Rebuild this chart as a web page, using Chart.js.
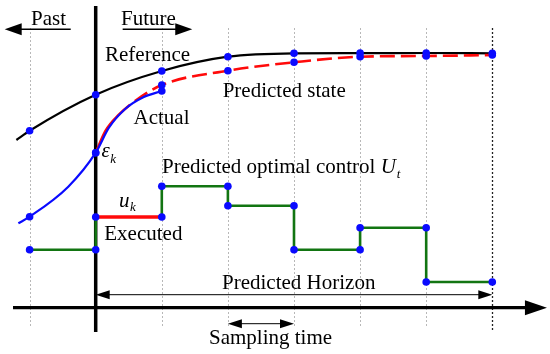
<!DOCTYPE html>
<html><head><meta charset="utf-8">
<script src="https://cdn.jsdelivr.net/npm/chart.js@4.4.1/dist/chart.umd.min.js"></script>
<style>html,body{margin:0;padding:0;background:#fff;overflow:hidden}canvas{display:block}</style>
</head><body>
<canvas id="c" width="550" height="354"></canvas>
<script>
// ---- data (time in sampling steps k, signal level in arbitrary units) ----
const steps = [-1, 0, 1, 2, 3, 4, 5, 6];
const refK  = [-1.2, -1, 0, 1, 2, 3, 4, 5, 6];
const refY  = [167.7, 177, 213, 236.7, 251, 254.4, 254.6, 254.7, 254.4];
const actK  = [-1.17, -1, -0.415, 0, 0.2, 0.45, 0.72, 1];
const actY  = [84.4, 91, 121, 155, 180, 199, 210.5, 216.7];
const predK = [0, 0.15, 0.35, 0.6, 1, 2, 3, 4, 5, 6];
const predY = [155, 177, 193, 207, 222.7, 237, 245.4, 251, 251.7, 252.7];
const ctrlK = [-1, 0, 1, 2, 3, 4, 5];
const ctrlU = [58, 90.7, 121.4, 102, 58, 80, 25.7];
const executedStep = 0;
const horizonStart = 0, horizonEnd = 6;

// ---- build library tables ----
const pts = (ks, ys) => ks.map((k, i) => ({x: k, y: ys[i]}));
const ctrlPts = [];
ctrlK.forEach((k, i) => { ctrlPts.push({x: k, y: ctrlU[i]}); ctrlPts.push({x: k + 1, y: ctrlU[i]}); });
const markerR = ctx => { const v = ctx.raw; return v && Number.isInteger(v.x) ? 3.8 : 0; };
const BLUE = '#0a0aff', GREEN = '#127512', RED = '#ff0a0a';

const serif = '"Liberation Serif","Times New Roman",serif';
const FS = 21;

const decor = {
  id: 'decor',
  beforeDatasetsDraw(chart) {
    const {ctx, scales: {x, y}} = chart;
    ctx.save();
    steps.forEach(k => {
      const last = k === steps[steps.length - 1];
      ctx.beginPath();
      ctx.setLineDash([2, 2]);
      ctx.strokeStyle = last ? '#222' : '#b8b8b8';
      ctx.lineWidth = last ? 1.3 : 1;
      const px = Math.round(x.getPixelForValue(k)) + 0.5;
      ctx.moveTo(px, y.getPixelForValue(279.7));
      ctx.lineTo(px, y.getPixelForValue(last ? -22.3 : -18.3));
      ctx.stroke();
    });
    ctx.setLineDash([]);
    arrow(ctx, x.getPixelForValue(-1.251), y.getPixelForValue(0), x.getPixelForValue(6.827), y.getPixelForValue(0), 3.2, 22, 7.5, false);
    ctx.beginPath(); ctx.strokeStyle = '#000'; ctx.lineWidth = 3.5;
    ctx.moveTo(x.getPixelForValue(0), y.getPixelForValue(301.7));
    ctx.lineTo(x.getPixelForValue(0), y.getPixelForValue(-24.3));
    ctx.stroke();
    ctx.restore();
  },
  afterDatasetsDraw(chart) {
    const {ctx, scales: {x, y}} = chart;
    const X = k => x.getPixelForValue(k), Y = v => y.getPixelForValue(v);
    ctx.save();
    arrow(ctx, X(-0.378), Y(278.4), X(-1.377), Y(278.4), 1.6, 17, 6, false);
    arrow(ctx, X(0.408), Y(278.4), X(1.461), Y(278.4), 1.6, 17, 6, false);
    arrow(ctx, X(horizonStart), Y(13), X(horizonEnd), Y(13), 1, 14, 4.5, true);
    arrow(ctx, X(2), Y(-16), X(3), Y(-16), 1, 14, 4.5, true);
    ctx.fillStyle = '#000';
    ctx.textBaseline = 'alphabetic';
    ctx.textAlign = 'left';
    const plain = [
      ['Past', -0.979, 282.7], ['Future', 0.383, 282.7], ['Reference', 0.141, 246.7],
      ['Predicted state', 1.921, 210.7], ['Actual', 0.572, 184.2], ['Executed', 0.13, 67.4],
      ['Predicted Horizon', 1.911, 19], ['Sampling time', 1.714, -36]
    ];
    ctx.font = FS + 'px ' + serif;
    plain.forEach(([t, k, v]) => ctx.fillText(t, X(k), Y(v)));
    const s1 = 'Predicted optimal control ';
    ctx.fillText(s1, X(1.003), Y(134.7));
    let px = X(1.003) + ctx.measureText(s1).width;
    ctx.font = 'italic ' + FS + 'px ' + serif;
    ctx.fillText('U', px, Y(134.7));
    px += ctx.measureText('U').width + 1;
    ctx.font = 'italic 13px ' + serif;
    ctx.fillText('t', px, Y(134.7) + 5);
    ctx.font = 'italic ' + FS + 'px ' + serif;
    ctx.fillText('\u03b5', X(0.088), Y(150.7));
    px = X(0.088) + ctx.measureText('\u03b5').width + 0.5;
    ctx.font = 'italic 13px ' + serif;
    ctx.fillText('k', px, Y(150.7) + 6);
    ctx.font = 'italic ' + FS + 'px ' + serif;
    ctx.fillText('u', X(0.352), Y(100.7));
    px = X(0.352) + ctx.measureText('u').width + 0.5;
    ctx.font = 'italic 13px ' + serif;
    ctx.fillText('k', px, Y(100.7) + 4);
    ctx.restore();
  }
};

function arrow(ctx, x0, y0, x1, y1, lw, hl, hw, both) {
  const a = Math.atan2(y1 - y0, x1 - x0);
  const head = (tx, ty, ang) => {
    ctx.beginPath();
    ctx.moveTo(tx, ty);
    ctx.lineTo(tx - hl * Math.cos(ang) + hw * Math.sin(ang), ty - hl * Math.sin(ang) - hw * Math.cos(ang));
    ctx.lineTo(tx - hl * Math.cos(ang) - hw * Math.sin(ang), ty - hl * Math.sin(ang) + hw * Math.cos(ang));
    ctx.closePath(); ctx.fill();
  };
  ctx.save();
  ctx.strokeStyle = '#000'; ctx.fillStyle = '#000'; ctx.lineWidth = lw; ctx.setLineDash([]);
  ctx.beginPath();
  const sx = both ? x0 + (hl - 2) * Math.cos(a) : x0;
  ctx.moveTo(sx, y0); ctx.lineTo(x1 - (hl - 2) * Math.cos(a), y1);
  ctx.stroke();
  head(x1, y1, a);
  if (both) head(x0, y0, a + Math.PI);
  ctx.restore();
}

const chart = new Chart(document.getElementById('c'), {
  type: 'line',
  data: {
    datasets: [
      { label: 'Reference', data: pts(refK, refY), borderColor: '#000', borderWidth: 2.2,
        cubicInterpolationMode: 'monotone', pointRadius: markerR, pointBackgroundColor: BLUE, pointBorderWidth: 0, order: 4 },
      { label: 'Predicted state', data: pts(predK, predY), borderColor: RED, borderWidth: 2.6,
        cubicInterpolationMode: 'monotone', pointRadius: markerR, pointBackgroundColor: BLUE, pointBorderWidth: 0,
        segment: { borderDash: c => c.p0DataIndex >= 2 ? [15, 6] : undefined }, order: 3 },
      { label: 'Actual', data: pts(actK, actY), borderColor: BLUE, borderWidth: 2.2,
        cubicInterpolationMode: 'monotone', pointRadius: markerR, pointBackgroundColor: BLUE, pointBorderWidth: 0, order: 2 },
      { label: 'Control', data: ctrlPts, borderColor: GREEN, borderWidth: 2.6, tension: 0,
        pointRadius: 3.8, pointBackgroundColor: BLUE, pointBorderWidth: 0,
        segment: {
          borderColor: c => (c.p0DataIndex % 2 === 0 && ctrlK[c.p0DataIndex / 2] === executedStep) ? RED : GREEN,
          borderWidth: c => (c.p0DataIndex % 2 === 0 && ctrlK[c.p0DataIndex / 2] === executedStep) ? 3.4 : 2.6
        }, order: 1 }
    ]
  },
  options: {
    responsive: false, animation: false, events: [],
    layout: { padding: 0, autoPadding: false },
    plugins: { legend: { display: false }, tooltip: { enabled: false } },
    scales: {
      x: { type: 'linear', display: false, min: -1.4478, max: 6.873 },
      y: { type: 'linear', display: false, min: -46.3, max: 307.7 }
    }
  },
  plugins: [decor]
});
</script>
</body></html>
